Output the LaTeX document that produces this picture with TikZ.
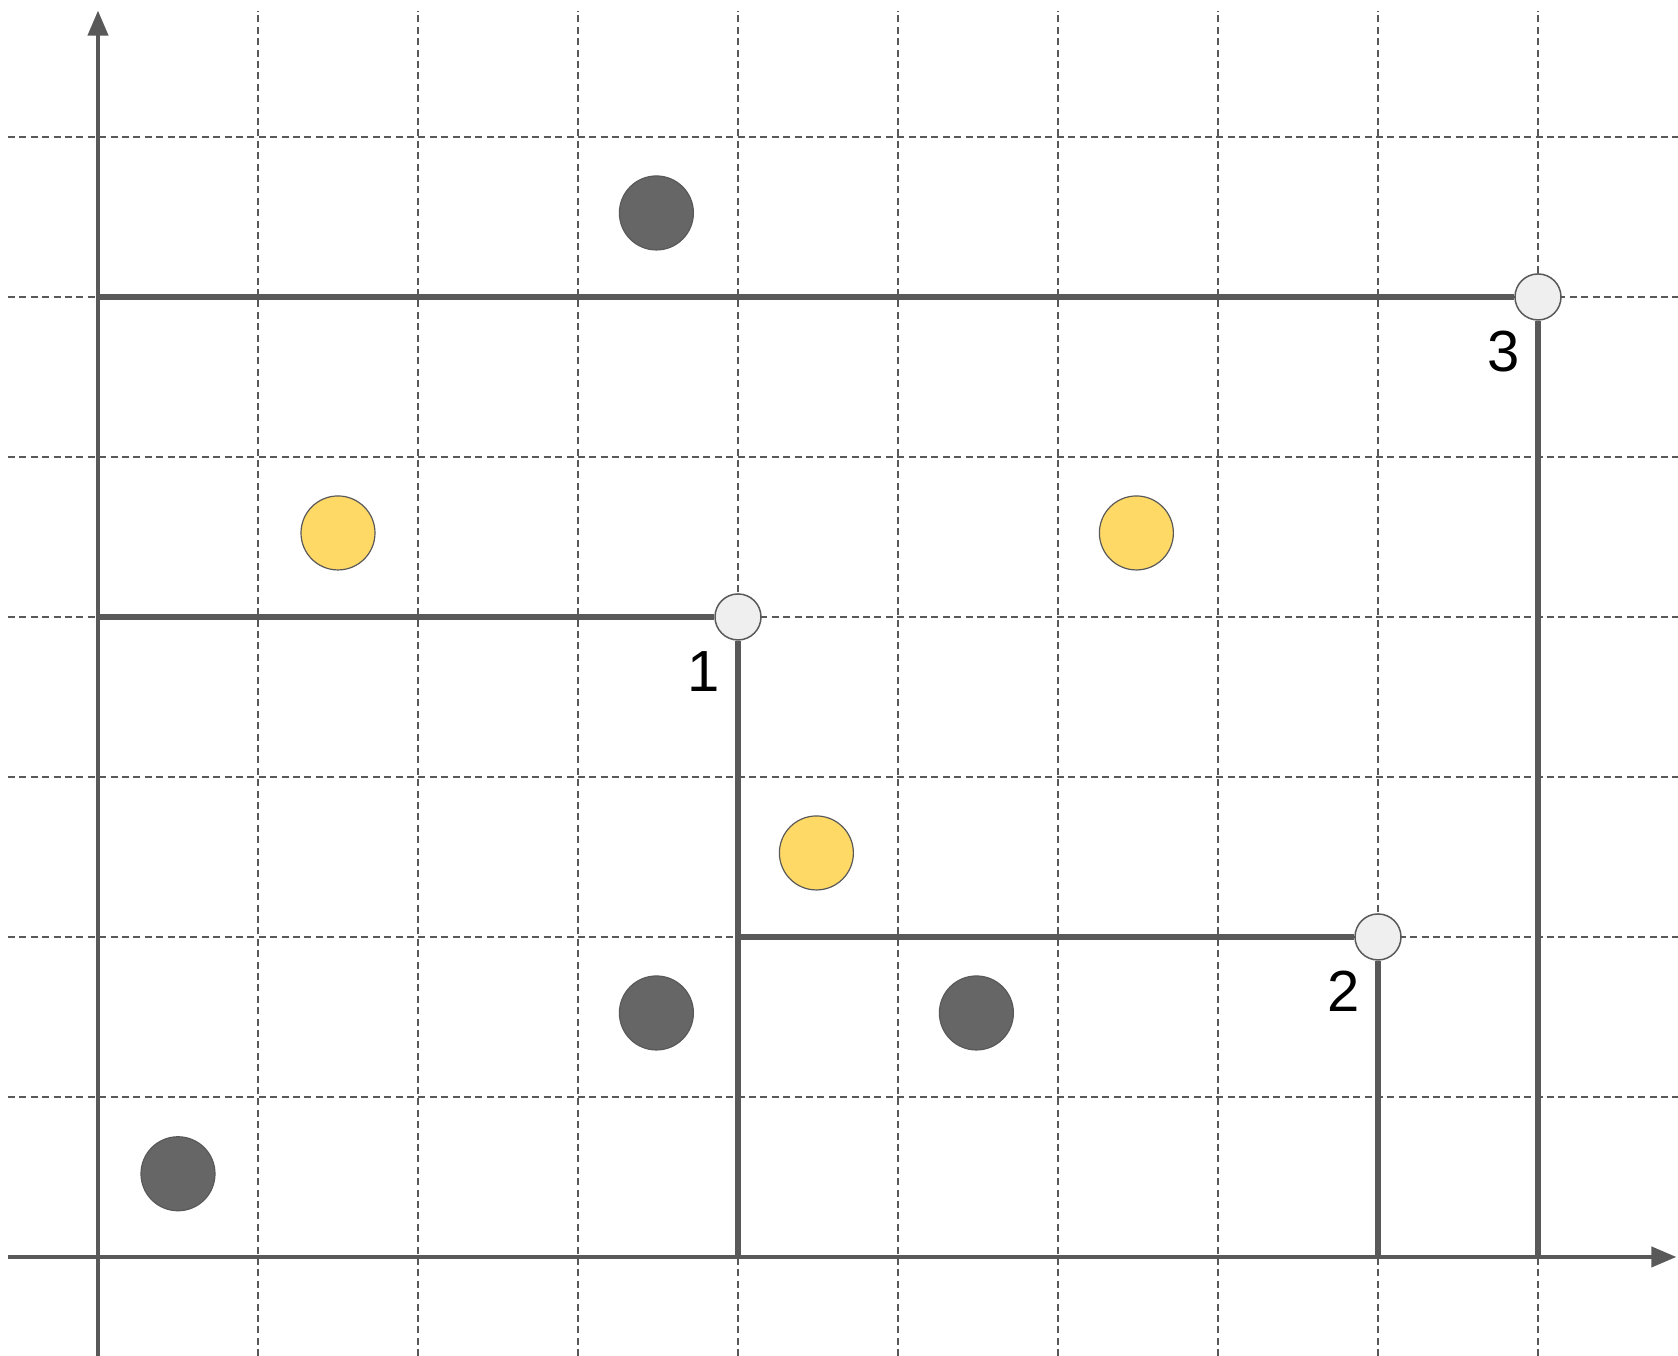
\documentclass[tikz,border=0pt]{standalone}
\usepackage{fontspec}
\setmainfont{Liberation Sans}
\usetikzlibrary{arrows.meta}
\definecolor{ax}{HTML}{595959}
\definecolor{darkfill}{HTML}{666666}
\definecolor{yel}{HTML}{FFD966}
\definecolor{light}{HTML}{EFEFEF}
\begin{document}
\begin{tikzpicture}[x=80pt,y=80pt,
  gridline/.style={ax, line width=0.75pt, dash pattern=on 3.5pt off 2.2pt},
  axisline/.style={ax, line width=2pt, -{Triangle[length=12.5pt,width=10pt]}},
  bar/.style={ax, line width=3.2pt},
  darkdot/.style={circle, draw=ax, fill=darkfill, line width=0.6pt, minimum size=37pt, inner sep=0pt},
  yeldot/.style={circle, draw=ax, fill=yel, line width=0.6pt, minimum size=37pt, inner sep=0pt},
  lightdot/.style={circle, draw=ax, fill=light, line width=0.75pt, minimum size=23pt, inner sep=0pt},
  lbl/.style={font=\fontsize{29pt}{32pt}\selectfont, text=black, inner sep=0pt}]
\useasboundingbox (-0.6125,-0.619) rectangle (9.875,7.856);
% grid
\foreach \i in {1,...,9} \draw[gridline] (\i,-0.62) -- (\i,7.79);
\foreach \j in {1,...,7} \draw[gridline] (-0.5625,\j) -- (9.875,\j);
% axes
\coordinate (xs) at (-0.5625,0);
\coordinate (xe) at (9.865,0);
\coordinate (ys) at (0,-0.62);
\coordinate (ye) at (0,7.79);
\draw[axisline] (xs) -- (xe);
\draw[axisline] (ys) -- (ye);
% dots
\node[darkdot] (d1) at (0.5,0.52) {};
\node[darkdot] (d2) at (3.49,1.525) {};
\node[darkdot] (d3) at (5.49,1.525) {};
\node[darkdot] (d4) at (3.49,6.525) {};
\node[yeldot] (y1) at (1.5,4.525) {};
\node[yeldot] (y2) at (6.49,4.525) {};
\node[yeldot] (y3) at (4.49,2.525) {};
% corner points
\node[lightdot] (c1) at (4,4) {};
\node[lightdot] (c2) at (8,2) {};
\node[lightdot] (c3) at (9,6) {};
% staircase lines
\coordinate (a1) at (0,4);
\coordinate (b1) at (4,0);
\coordinate (a2) at (4,2);
\coordinate (b2) at (8,0);
\coordinate (a3) at (0,6);
\coordinate (b3) at (9,0);
\draw[bar] (a1) -- (c1.west);
\draw[bar] (c1.south) -- (b1);
\draw[bar] (a2) -- (c2.west);
\draw[bar] (c2.south) -- (b2);
\draw[bar] (a3) -- (c3.west);
\draw[bar] (c3.south) -- (b3);
% labels
\node[lbl] (l1) at (3.785,3.66) {1};
\node[lbl] (l2) at (7.785,1.66) {2};
\node[lbl] (l3) at (8.785,5.66) {3};
\end{tikzpicture}
\end{document}
